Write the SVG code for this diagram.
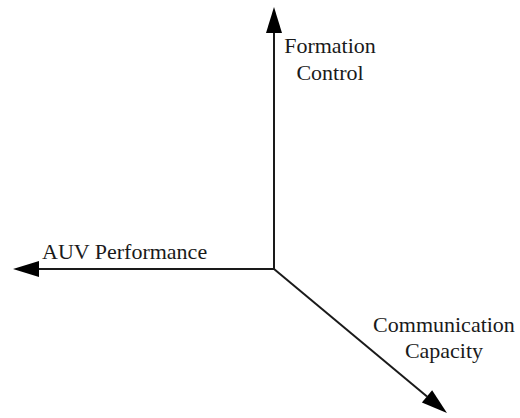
<svg xmlns="http://www.w3.org/2000/svg" width="520" height="418" viewBox="0 0 520 418">
<style>
.axis{stroke:#1a1a1a;stroke-width:2;fill:none;marker-end:url(#ah)}
.lbl{font-family:"Liberation Serif","Times New Roman","DejaVu Serif",serif;font-size:22px;fill:#1a1a1a}
</style>
<defs>
<marker id="ah" markerUnits="userSpaceOnUse" markerWidth="27" markerHeight="17" refX="0" refY="8" orient="auto" overflow="visible">
<path d="M0,0 L26,8 L0,16 Z" fill="#000"/>
</marker>
</defs>
<rect width="520" height="418" fill="#fff"/>
<g id="connectors">
<line class="axis" x1="274" y1="269" x2="274" y2="33"/>
<line class="axis" x1="274" y1="269" x2="39" y2="269"/>
<line class="axis" x1="274" y1="269" x2="427" y2="396.4"/>
</g>
<g id="formation-control">
<text class="lbl" x="330" y="53" text-anchor="middle">Formation</text>
<text class="lbl" x="330" y="80" text-anchor="middle">Control</text>
</g>
<g id="auv-performance">
<text class="lbl" x="42" y="259">AUV Performance</text>
</g>
<g id="communication-capacity">
<text class="lbl" x="444" y="332" text-anchor="middle">Communication</text>
<text class="lbl" x="444" y="358" text-anchor="middle">Capacity</text>
</g>
</svg>
